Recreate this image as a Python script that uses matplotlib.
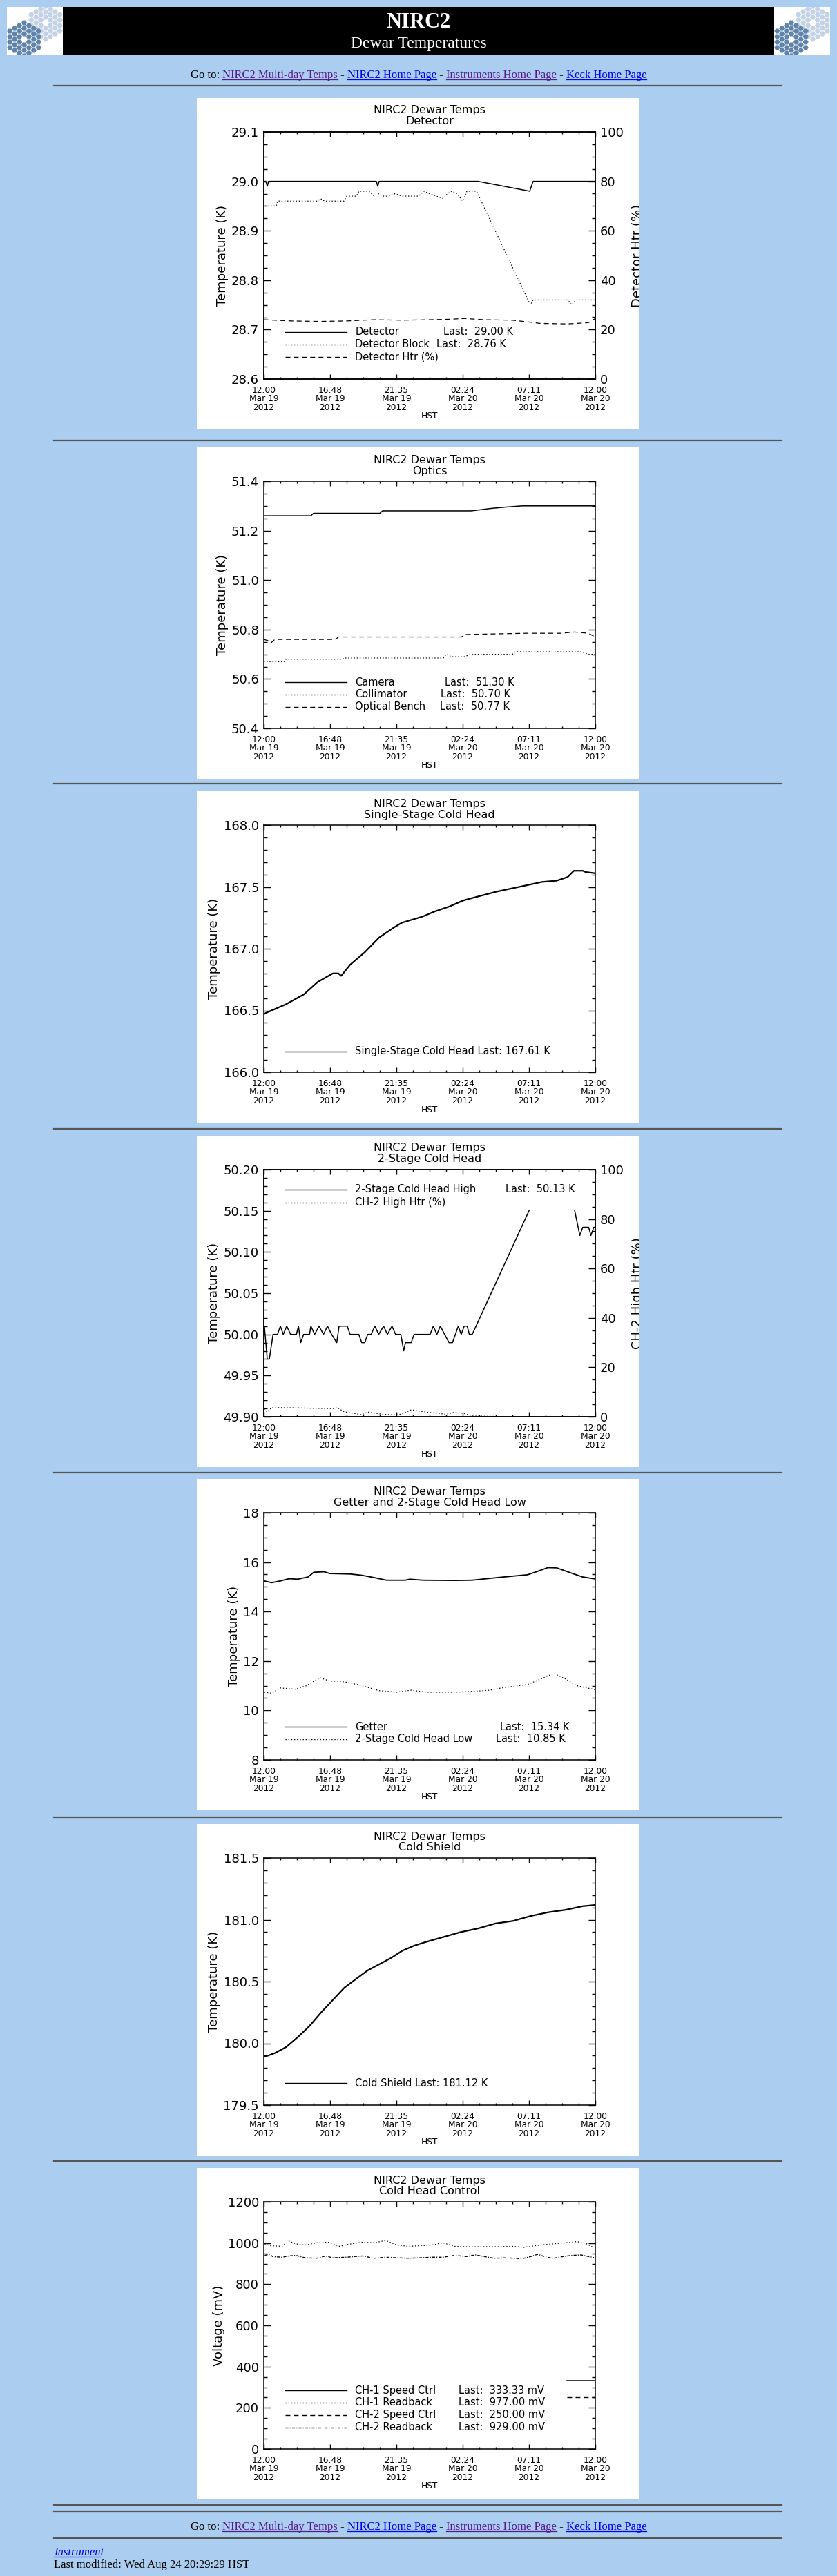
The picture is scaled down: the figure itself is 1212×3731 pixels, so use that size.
import numpy as np
import matplotlib
matplotlib.use('Agg')
import matplotlib.pyplot as plt
from matplotlib.patches import Rectangle, RegularPolygon
from matplotlib.lines import Line2D
from matplotlib.ticker import MultipleLocator, FormatStrFormatter

plt.rcParams['lines.scale_dashes'] = False
plt.rcParams['font.family'] = ['DejaVu Sans']

# ---- data (hours after 12:00 Mar 19 2012, HST) ----
x_major = [0, 4.8, 9.6, 14.4, 19.2, 24]
x_labels = ['12:00\nMar 19\n2012', '16:48\nMar 19\n2012', '21:35\nMar 19\n2012',
            '02:24\nMar 20\n2012', '07:11\nMar 20\n2012', '12:00\nMar 20\n2012']

# detector panel
det_t = [0, 0.15, 0.25, 0.35, 8.15, 8.25, 8.35, 15.5, 19.25, 19.5, 24]
det_v = [29.0, 29.0, 28.99, 29.0, 29.0, 28.99, 29.0, 29.0, 28.98, 29.0, 29.0]
blk_t = [0.1, 0.9, 1.0, 3.9, 4.1, 4.4, 5.8, 6.0, 6.7, 6.9, 7.6, 8.0, 8.3, 8.6, 9.0, 9.5, 10.0,
         10.4, 11.2, 11.6, 12.0, 12.5, 13.0, 13.3, 13.6, 14.0, 14.4, 14.7, 15.0, 15.4, 19.3,
         19.5, 22.0, 22.3, 22.6, 24.0]
blk_v = [28.95, 28.95, 28.96, 28.96, 28.965, 28.96, 28.96, 28.97, 28.97, 28.98, 28.98, 28.97,
         28.975, 28.97, 28.97, 28.975, 28.97, 28.97, 28.97, 28.98, 28.975, 28.97, 28.965, 28.975,
         28.98, 28.975, 28.96, 28.98, 28.98, 28.98, 28.75, 28.76, 28.76, 28.75, 28.76, 28.76]
htr_t = [0, 2, 4, 6, 8, 10, 12, 13.5, 14.5, 16, 18, 19.3, 20, 22, 23.5, 24]
htr_v = [24.0, 23.5, 23.3, 23.5, 24.0, 23.8, 24.0, 24.2, 24.5, 24.0, 23.8, 23.0, 22.5, 22.3, 22.8, 24.5]

# optics panel
cam_t = [0, 3.4, 3.6, 8.4, 8.6, 15.0, 16.5, 17.5, 18.7, 24]
cam_v = [51.26, 51.26, 51.27, 51.27, 51.28, 51.28, 51.29, 51.295, 51.30, 51.30]
col_t = [0, 1.5, 1.6, 5.7, 5.8, 13.0, 13.2, 13.6, 14.5, 15.0, 15.3, 18.0, 18.2, 23.0, 23.5, 24]
col_v = [50.67, 50.67, 50.68, 50.68, 50.685, 50.685, 50.70, 50.69, 50.69, 50.70, 50.70, 50.70,
         50.71, 50.71, 50.70, 50.70]
opt_t = [0, 0.3, 0.5, 0.8, 5.2, 5.4, 14.3, 14.6, 19.0, 21.5, 22.5, 23.5, 24]
opt_v = [50.76, 50.755, 50.745, 50.76, 50.76, 50.77, 50.77, 50.78, 50.785, 50.785, 50.79, 50.785, 50.77]

# single-stage cold head
ss_t = [0.0, 0.15, 1.6, 2.9, 3.9, 5.0, 5.4, 5.6, 6.25, 7.3, 8.35, 9.4, 10.0, 10.9, 11.5, 12.35,
        13.4, 14.45, 15.1, 16.8, 18.9, 20.15, 21.2, 22.0, 22.45, 23.1, 23.3, 24.0]
ss_v = [166.47, 166.48, 166.55, 166.63, 166.73, 166.80, 166.80, 166.78, 166.87, 166.97, 167.09,
        167.17, 167.21, 167.24, 167.26, 167.30, 167.34, 167.39, 167.41, 167.46, 167.51, 167.54,
        167.55, 167.58, 167.63, 167.63, 167.62, 167.61]

# 2-stage cold head
ch2_t = [0.04, 0.25, 0.40, 0.67, 0.99, 1.20, 1.41, 1.66, 1.94, 2.36, 2.51, 2.67, 2.88, 3.31, 3.41,
         3.68, 4.00, 4.32, 4.61, 4.91, 5.28, 5.45, 6.04, 6.25, 6.88, 7.09, 7.31, 7.52, 7.77, 8.04,
         8.32, 8.67, 8.95, 9.28, 9.54, 9.92, 10.13, 10.25, 10.67, 10.88, 12.04, 12.27, 12.53,
         12.78, 13.09, 13.41, 13.66, 14.08, 14.29, 14.51, 14.72, 14.88, 15.09, 19.20, 21.0,
         22.51, 22.88, 23.09, 23.52, 23.68, 23.89, 24.0]
ch2_v = [50.01, 49.97, 49.97, 50.00, 50.00, 50.01, 50.00, 50.01, 50.00, 50.00, 50.01, 49.99, 50.00,
         50.00, 50.01, 50.00, 50.01, 50.00, 50.01, 50.00, 49.99, 50.01, 50.01, 50.00, 50.00, 49.99,
         49.99, 50.00, 50.00, 50.01, 50.00, 50.01, 50.00, 50.01, 50.00, 50.00, 49.98, 49.99, 49.99,
         50.00, 50.00, 50.01, 50.00, 50.01, 50.00, 49.99, 49.99, 50.01, 50.00, 50.01, 50.01, 50.00,
         50.00, 50.15, np.nan, 50.15, 50.12, 50.13, 50.13, 50.12, 50.13, 50.13]
ch2h_t = [0.04, 0.25, 0.57, 2.25, 3.73, 4.99, 5.31, 5.83, 7.09, 7.52, 8.57, 9.62, 10.04, 10.67,
          11.73, 13.2, 13.83, 14.46, 15.09, 16.99]
ch2h_v = [3.3, 1.9, 3.7, 3.6, 3.4, 3.3, 3.7, 2.0, 0.8, 1.9, 1.0, 0.7, 1.2, 2.8, 1.9, 1.0, 1.8, 1.4,
          0.3, 0.1]

# getter and 2-stage low
get_t = [0.04, 0.57, 1.2, 1.83, 2.46, 3.2, 3.62, 4.36, 4.78, 6.25, 7.09, 7.94, 8.88, 10.25, 10.57,
         11.52, 13.83, 15.09, 16.99, 19.09, 19.73, 20.57, 21.2, 22.25, 23.09, 24.0]
get_v = [15.24, 15.17, 15.24, 15.33, 15.31, 15.40, 15.59, 15.61, 15.54, 15.52, 15.47, 15.38, 15.27,
         15.27, 15.31, 15.27, 15.26, 15.27, 15.38, 15.49, 15.61, 15.78, 15.77, 15.56, 15.40, 15.32]
low_t = [0.04, 0.57, 1.2, 2.25, 3.09, 4.04, 4.78, 5.41, 6.25, 7.09, 8.36, 9.62, 10.67, 11.73,
         13.83, 15.09, 16.36, 17.2, 19.09, 20.15, 20.99, 21.83, 22.67, 24.0]
low_v = [10.74, 10.70, 10.91, 10.86, 11.00, 11.33, 11.19, 11.19, 11.12, 11.00, 10.80, 10.74, 10.82,
         10.74, 10.74, 10.77, 10.82, 10.91, 11.05, 11.30, 11.50, 11.28, 11.00, 10.84]

# cold shield
cs_t = [0.04, 0.78, 1.62, 2.46, 3.31, 4.15, 4.99, 5.83, 6.67, 7.52, 8.36, 9.2, 10.04, 10.88, 11.73,
        12.99, 14.25, 15.52, 16.78, 18.04, 19.31, 20.57, 21.83, 23.09, 24.0]
cs_v = [179.89, 179.92, 179.97, 180.05, 180.14, 180.25, 180.35, 180.45, 180.52, 180.59, 180.64,
        180.69, 180.75, 180.79, 180.82, 180.86, 180.90, 180.93, 180.97, 180.99, 181.03, 181.06,
        181.08, 181.11, 181.12]

# cold head control
rb1_t = [0.07, 0.48, 1.32, 1.82, 2.32, 2.98, 3.82, 4.65, 5.48, 6.32, 7.15, 7.98, 8.82, 9.65, 10.48,
         11.32, 12.15, 12.98, 13.82, 14.65, 15.48, 16.32, 17.15, 17.98, 18.82, 19.32, 19.98, 20.98,
         21.82, 22.65, 23.32, 23.9]
rb1_v = [996, 987, 984, 1009, 996, 990, 1001, 1004, 984, 996, 1004, 1001, 1012, 990, 984, 987, 990,
         1001, 984, 982, 982, 982, 982, 984, 979, 984, 990, 996, 1001, 1007, 998, 977]
rb2_t = [0.07, 0.4, 0.65, 1.32, 1.82, 2.32, 2.98, 3.82, 4.48, 4.98, 5.98, 7.15, 7.98, 8.82, 9.65,
         10.48, 11.32, 12.15, 12.98, 13.82, 14.65, 15.32, 15.98, 16.65, 17.65, 18.65, 19.32, 19.82,
         20.48, 20.98, 21.65, 22.32, 22.98, 23.9]
rb2_v = [940, 945, 934, 931, 937, 940, 928, 926, 937, 928, 931, 937, 926, 931, 928, 926, 928, 931,
         931, 940, 934, 942, 934, 926, 928, 923, 934, 945, 931, 926, 934, 940, 942, 929]
sp1_t = [21.95, 24.0]
sp1_v = [333.33, 333.33]
sp2_t = [21.95, 24.0]
sp2_v = [250.0, 250.0]

# ---- page layout ----
W, H = 1212, 3731
BG = '#abcdef'
LINK = '#0000ee'
VISITED = '#551a8b'
SERIF = 'Liberation Serif'
DOT = (0, (1.0, 2.0))
DASH = (0, (5.0, 3.6))
DASHDOT = (0, (3.0, 1.5, 0.8, 1.5))

fig = plt.figure(figsize=(W / 100, H / 100), dpi=100)
fig.patch.set_facecolor(BG)
renderer = fig.canvas.get_renderer()


def fr(x, y, w, h):
    return [x / W, 1 - (y + h) / H, w / W, h / H]


def hrule(y):
    fig.add_artist(Line2D([78 / W, 1132 / W], [1 - y / H, 1 - y / H], color='#555555', lw=1.6))


def logo(x):
    lax = fig.add_axes(fr(x, 10, 81, 69))
    lax.set_facecolor('white')
    lax.set_xlim(0, 81)
    lax.set_ylim(69, 0)
    lax.set_xticks([])
    lax.set_yticks([])
    for s in lax.spines.values():
        s.set_visible(False)
    r = 4.6
    for (cx, cy, col) in [(56, 23, '#c3d2e4'), (25, 47, '#5f83ab')]:
        for q in range(-3, 4):
            for rr in range(-3, 4):
                s = -q - rr
                if max(abs(q), abs(rr), abs(s)) == 0 or max(abs(q), abs(rr), abs(s)) > 3:
                    continue
                hx = cx + r * 1.5 * q
                hy = cy + r * np.sqrt(3) * (rr + q / 2)
                lax.add_patch(RegularPolygon((hx, hy), 6, radius=r * 0.88,
                                             orientation=np.pi / 6, facecolor=col,
                                             edgecolor='none'))


def link_line(y):
    pieces = [('Go to: ', 'black', False), ('NIRC2 Multi-day Temps', VISITED, True),
              (' - ', 'black', False), ('NIRC2 Home Page', LINK, True), (' - ', 'black', False),
              ('Instruments Home Page', VISITED, True), (' - ', 'black', False),
              ('Keck Home Page', LINK, True)]
    texts = []
    total = 0
    for s, c, u in pieces:
        t = fig.text(0, 1 - y / H, s, color=c, family=SERIF, fontsize=12, va='baseline')
        w = t.get_window_extent(renderer=renderer).width
        texts.append((t, w, u, c))
        total += w
    x = (W - total) / 2
    for t, w, u, c in texts:
        t.set_x(x / W)
        if u:
            fig.add_artist(Line2D([x / W, (x + w) / W], [1 - (y + 2) / H] * 2, color=c, lw=0.9))
        x += w


# header
fig.add_artist(Rectangle((91 / W, 1 - 79 / H), 1030 / W, 69 / H, transform=fig.transFigure,
                         facecolor='black', edgecolor='none', zorder=-1))
logo(10)
logo(1121)
fig.text(0.5, 1 - 33 / H, 'NIRC2', color='white', family=SERIF, fontsize=22, fontweight='bold',
         ha='center', va='center')
fig.text(0.5, 1 - 63 / H, 'Dewar Temperatures', color='white', family=SERIF, fontsize=17,
         ha='center', va='center')
link_line(113)
hrule(124)


def make_panel(top, subtitle, ylim, ymaj, ymin, yfmt, ylabel, right=None):
    bg = Rectangle((285 / W, 1 - (top + 480) / H), 641 / W, 480 / H, transform=fig.transFigure,
                   facecolor='white', edgecolor='none', zorder=-1)
    fig.add_artist(bg)
    ax = fig.add_axes(fr(382, top + 49, 480, 358))
    ax.set_xlim(0, 24)
    ax.set_ylim(*ylim)
    ax.set_xticks(x_major, labels=x_labels)
    ax.xaxis.set_minor_locator(MultipleLocator(1.2))
    ax.yaxis.set_major_locator(MultipleLocator(ymaj))
    ax.yaxis.set_minor_locator(MultipleLocator(ymin))
    ax.yaxis.set_major_formatter(FormatStrFormatter(yfmt))
    ax.tick_params(axis='x', which='major', direction='in', length=5, width=1, top=True,
                   labelsize=8.8, pad=7)
    ax.tick_params(axis='x', which='minor', direction='in', length=2.5, width=1, top=True)
    ax.tick_params(axis='y', which='major', direction='in', length=7, width=1,
                   right=right is None, labelsize=13, pad=5)
    ax.tick_params(axis='y', which='minor', direction='in', length=3.5, width=1,
                   right=right is None)
    for lbl in ax.get_xticklabels():
        lbl.set_linespacing(0.95)
    for s in ax.spines.values():
        s.set_linewidth(1.1)
    ax.set_ylabel(ylabel, fontsize=13, labelpad=3)
    ax.text(0.5, 1 + 31 / 358, 'NIRC2 Dewar Temps', transform=ax.transAxes, ha='center',
            va='center', fontsize=11.5)
    ax.text(0.5, 1 + 15 / 358, subtitle, transform=ax.transAxes, ha='center', va='center',
            fontsize=11.5)
    ax.text(0.5, -54 / 358, 'HST', transform=ax.transAxes, ha='center', va='center',
            fontsize=8.8)
    ax2 = None
    if right is not None:
        ax2 = ax.twinx()
        ax2.set_ylim(0, 100)
        ax2.yaxis.set_major_locator(MultipleLocator(20))
        ax2.yaxis.set_minor_locator(MultipleLocator(5))
        ax2.tick_params(axis='y', which='major', direction='in', length=7, width=1,
                        labelsize=13, pad=5)
        ax2.tick_params(axis='y', which='minor', direction='in', length=3.5, width=1)
        for s in ax2.spines.values():
            s.set_linewidth(1.1)
        ax2.set_ylabel(right, fontsize=13, labelpad=8)
        # the label runs past the edge of the white plot image, as in the page
        ax2.yaxis.label.set_clip_on(True)
        ax2.yaxis.label.set_clip_path(bg)
    return ax, ax2


def legend_row(ax, yf, style, name, last=None, last_x=None):
    ax.plot([0.065, 0.25], [yf, yf], transform=ax.transAxes, color='black', lw=1.0,
            linestyle=style, clip_on=False)
    ax.text(0.276, yf, name, transform=ax.transAxes, va='center', fontsize=10.5)
    if last is not None:
        ax.text(last_x, yf, last, transform=ax.transAxes, va='center', fontsize=10.5)


# 1 detector
ax, ax2 = make_panel(142, 'Detector', (28.6, 29.1), 0.1, 0.025, '%.1f', 'Temperature (K)',
                     right='Detector Htr (%)')
ax.plot(det_t, det_v, color='black', lw=1.1)
ax.plot(blk_t, blk_v, color='black', lw=0.9, linestyle=DOT)
ax2.plot(htr_t, htr_v, color='black', lw=0.9, linestyle=DASH)
legend_row(ax, 0.190, '-', 'Detector', 'Last:  29.00 K', 0.541)
legend_row(ax, 0.140, DOT, 'Detector Block', 'Last:  28.76 K', 0.521)
legend_row(ax, 0.088, DASH, 'Detector Htr (%)')
hrule(638)

# 2 optics
ax, _ = make_panel(648, 'Optics', (50.4, 51.4), 0.2, 0.05, '%.1f', 'Temperature (K)')
ax.plot(cam_t, cam_v, color='black', lw=1.1)
ax.plot(col_t, col_v, color='black', lw=0.9, linestyle=DOT)
ax.plot(opt_t, opt_v, color='black', lw=0.9, linestyle=DASH)
legend_row(ax, 0.187, '-', 'Camera', 'Last:  51.30 K', 0.546)
legend_row(ax, 0.137, DOT, 'Collimator', 'Last:  50.70 K', 0.534)
legend_row(ax, 0.087, DASH, 'Optical Bench', 'Last:  50.77 K', 0.531)
hrule(1135)

# 3 single-stage cold head
ax, _ = make_panel(1146, 'Single-Stage Cold Head', (166.0, 168.0), 0.5, 0.1, '%.1f',
                   'Temperature (K)')
ax.plot(ss_t, ss_v, color='black', lw=1.6)
legend_row(ax, 0.084, '-', 'Single-Stage Cold Head Last: 167.61 K')
hrule(1635)

# 4 2-stage cold head
ax, ax2 = make_panel(1645, '2-Stage Cold Head', (49.90, 50.20), 0.05, 0.01, '%.2f',
                     'Temperature (K)', right='CH-2 High Htr (%)')
ax.plot(ch2_t, ch2_v, color='black', lw=1.1)
ax2.plot(ch2h_t, ch2h_v, color='black', lw=0.9, linestyle=DOT)
legend_row(ax, 0.919, '-', '2-Stage Cold Head High', 'Last:  50.13 K', 0.730)
legend_row(ax, 0.866, DOT, 'CH-2 High Htr (%)')
hrule(2133)

# 5 getter
ax, _ = make_panel(2142, 'Getter and 2-Stage Cold Head Low', (8, 18), 2, 0.5, '%d',
                   'Temperature (K)')
ax.plot(get_t, get_v, color='black', lw=1.3)
ax.plot(low_t, low_v, color='black', lw=0.9, linestyle=DOT)
legend_row(ax, 0.134, '-', 'Getter', 'Last:  15.34 K', 0.712)
legend_row(ax, 0.084, DOT, '2-Stage Cold Head Low', 'Last:  10.85 K', 0.699)
hrule(2632)

# 6 cold shield
ax, _ = make_panel(2642, 'Cold Shield', (179.5, 181.5), 0.5, 0.1, '%.1f', 'Temperature (K)')
ax.plot(cs_t, cs_v, color='black', lw=1.6)
legend_row(ax, 0.089, '-', 'Cold Shield Last: 181.12 K')
hrule(3130)

# 7 cold head control
ax, _ = make_panel(3140, 'Cold Head Control', (0, 1200), 200, 50, '%d', 'Voltage (mV)')
ax.plot(sp1_t, sp1_v, color='black', lw=1.1)
ax.plot(rb1_t, rb1_v, color='black', lw=0.9, linestyle=DOT)
ax.plot(sp2_t, sp2_v, color='black', lw=1.0, linestyle=DASH)
ax.plot(rb2_t, rb2_v, color='black', lw=1.0, linestyle=DASHDOT)
legend_row(ax, 0.237, '-', 'CH-1 Speed Ctrl', 'Last:  333.33 mV', 0.588)
legend_row(ax, 0.188, DOT, 'CH-1 Readback', 'Last:  977.00 mV', 0.588)
legend_row(ax, 0.138, DASH, 'CH-2 Speed Ctrl', 'Last:  250.00 mV', 0.588)
legend_row(ax, 0.087, DASHDOT, 'CH-2 Readback', 'Last:  929.00 mV', 0.588)
hrule(3628)
hrule(3638)

# footer
link_line(3664)
hrule(3676)
fig.text(78 / W, 1 - 3701 / H, 'Instrument', color=LINK, family=SERIF, fontsize=12,
         style='italic', va='baseline')
fig.add_artist(Line2D([78 / W, 145 / W], [1 - 3703 / H] * 2, color=LINK, lw=0.9))
fig.text(78 / W, 1 - 3719 / H, 'Last modified: Wed Aug 24 20:29:29 HST', color='black',
         family=SERIF, fontsize=12, va='baseline')

fig.savefig('out.png', dpi=100, facecolor=BG)
